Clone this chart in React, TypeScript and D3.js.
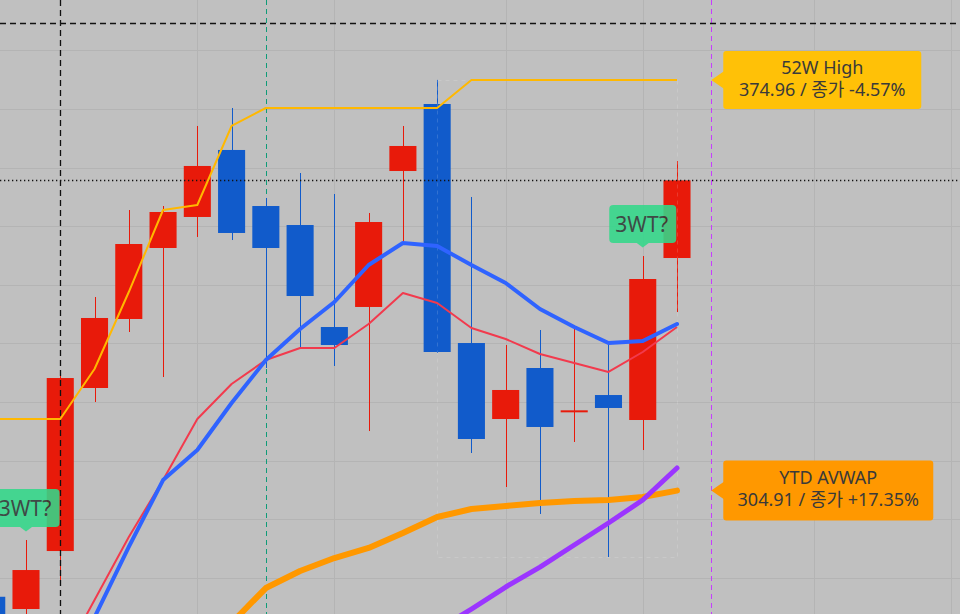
import React from 'react';
import * as d3 from 'd3';

const W = 960;
const H = 614;

// weekly candles, oldest first (bar 0 is cut off at the left edge)
const opens = [286.8, 284.71, 294.6, 322.41, 334.18, 346.29, 351.58, 363.01, 353.45, 350.21, 332.81, 336.23, 359.42, 370.85, 330.08, 317.12, 325.82, 318.4, 321.21, 316.95, 344.58];
const highs = [287.5, 296.48, 324.8, 337.93, 352.77, 353.45, 367.1, 370.17, 354.82, 359.08, 355.5, 352.26, 367.1, 374.96, 354.99, 329.74, 332.3, 332.47, 330.08, 344.92, 361.13];
const lows = [280.0, 282.83, 289.15, 320.02, 331.96, 324.28, 348.17, 347.65, 325.82, 329.23, 326.16, 315.07, 347.31, 328.4, 311.32, 305.52, 300.92, 313.2, 293.58, 311.83, 335.37];
const closes = [282.0, 291.36, 324.11, 334.35, 346.97, 352.43, 360.28, 348.85, 346.29, 338.1, 329.74, 350.72, 363.69, 328.55, 313.71, 322.07, 315.76, 318.6, 319.0, 341.0, 357.82];

// overlays
const high52w = [317.12, 317.12, 317.12, 325.65, 338.78, 352.77, 353.62, 367.1, 370.17, 370.17, 370.17, 370.17, 370.17, 370.17, 374.96, 374.96, 374.96, 374.96, 374.96, 374.96, 374.96];
const maFast = [null, null, 272.1, 283.3, 295.29, 306.71, 311.83, 319.85, 327.18, 332.47, 337.08, 343.39, 347.14, 346.63, 343.39, 340.32, 335.88, 332.81, 330.08, 330.43, 333.33];
const maSlow = [null, null, 275.5, 286.25, 296.99, 306.71, 317.12, 323.09, 327.18, 329.23, 329.23, 333.33, 338.61, 336.91, 332.64, 330.77, 328.21, 326.67, 325.14, 328.55, 332.81];
const ytdAvwap = [null, null, null, null, null, null, null, 282.32, 288.29, 291.19, 293.41, 295.12, 297.67, 300.4, 301.77, 302.28, 302.79, 303.13, 303.3, 303.81, 304.91];
const trendLine = [null, null, null, null, null, null, null, null, null, null, null, null, null, 281.13, 284.71, 288.46, 291.87, 295.63, 299.38, 303.3, 308.76];

const monthBars = [6, 10, 15, 19, 24, 28];
const gridPrices = d3.range(290, 390, 10);

const pivotBar = 2;
const anchorBar = 8;
const todayBar = 21;
const refPrice = 384.67;
const lastClose = 357.82;
const rangeHigh = 374.96;
const rangeLow = 293.58;

const label52 = ['52W High', '374.96 / 종가 -4.57%'];
const labelAvwap = ['YTD AVWAP', '304.91 / 종가 +17.35%'];
const wtBars = [1, 19];
const wtText = '3WT?';

const RED = '#e81a0a';
const BLUE = '#115bcb';
const FONT = '"Noto Sans", "Noto Sans CJK KR", sans-serif';

const x = d3.scaleLinear().domain([1, 20]).range([26, 677]);
const y = d3.scaleLinear().domain([283.86, 388.59]).range([H, 0]);
const step = x(1) - x(0);
const bodyW = step * 0.79;
// snap 1px lines to the pixel grid
const px = (v: number) => Math.round(v) + 0.5;

const line = d3.line<number | null>()
  .defined(v => v != null)
  .x((_, i) => x(i))
  .y(v => y(v as number));

function Callout({ value, lines, width, height, fill }: { value: number; lines: string[]; width: number; height: number; fill: string }) {
  const tx = x(todayBar);
  const ty = y(value);
  const bx = tx + 12;
  const by = ty - height / 2;
  const cx = bx + width / 2;
  return (
    <g>
      <rect x={bx} y={by} width={width} height={height} rx={3} fill={fill} />
      <path d={`M${tx},${ty} L${bx + 1},${ty - 9} L${bx + 1},${ty + 9} Z`} fill={fill} />
      <text x={cx} y={by + 23} textAnchor="middle" fontFamily={FONT} fontSize={18} fill="#3a3a3a">{lines[0]}</text>
      <text x={cx} y={by + 45} textAnchor="middle" fontFamily={FONT} fontSize={18} fill="#3a3a3a">{lines[1]}</text>
    </g>
  );
}

export default function App() {
  return (
    <svg width={W} height={H} style={{ position: 'fixed', left: 0, top: 0 }}>
      <rect width={W} height={H} fill="#c0c0c0" />

      {/* grid */}
      <g stroke="#b4b4b4" strokeWidth={1}>
        {gridPrices.map(p => <line key={p} x1={0} x2={W} y1={px(y(p))} y2={px(y(p))} />)}
        {monthBars.map(b => <line key={b} x1={px(x(b))} x2={px(x(b))} y1={0} y2={H} />)}
      </g>

      {/* anchor markers under the candles */}
      <line x1={px(x(anchorBar))} x2={px(x(anchorBar))} y1={0} y2={H} stroke="#0e9c78" strokeWidth={1} strokeDasharray="5,4" />
      <line x1={px(x(todayBar))} x2={px(x(todayBar))} y1={0} y2={H} stroke="#c63cff" strokeWidth={1} strokeDasharray="5,4" />

      {/* candles */}
      {opens.map((o, i) => {
        const c = closes[i];
        const col = c >= o ? RED : BLUE;
        const top = y(Math.max(o, c));
        const bot = y(Math.min(o, c));
        return (
          <g key={i}>
            <line x1={px(x(i))} x2={px(x(i))} y1={y(highs[i])} y2={y(lows[i])} stroke={col} strokeWidth={1} />
            <rect x={x(i) - bodyW / 2} y={top} width={bodyW} height={Math.max(2, bot - top)} fill={col} />
          </g>
        );
      })}

      {/* faint range box */}
      <rect x={px(x(13))} y={px(y(rangeHigh))} width={Math.round(x(20) - x(13))} height={Math.round(y(rangeLow) - y(rangeHigh))}
        fill="none" stroke="rgba(255,255,255,0.14)" strokeWidth={1} strokeDasharray="4,4" />

      {/* crosshair / reference lines */}
      <line x1={0} x2={W} y1={px(y(refPrice))} y2={px(y(refPrice))} stroke="#111" strokeWidth={1.3} strokeDasharray="6,4" />
      <line x1={px(x(pivotBar))} x2={px(x(pivotBar))} y1={0} y2={H} stroke="#111" strokeWidth={1.3} strokeDasharray="6,4" />
      <line x1={0} x2={W} y1={px(y(lastClose))} y2={px(y(lastClose))} stroke="#111" strokeWidth={1.3} strokeDasharray="1.3,2.7" />

      {/* overlays */}
      <path d={line(ytdAvwap) || ''} fill="none" stroke="#ff9800" strokeWidth={6} strokeLinejoin="round" strokeLinecap="round" />
      <path d={line(trendLine) || ''} fill="none" stroke="#9b35ff" strokeWidth={5} strokeLinejoin="round" strokeLinecap="round" />
      <path d={line(maSlow) || ''} fill="none" stroke="#f23a4d" strokeWidth={2} strokeLinejoin="round" />
      <path d={line(maFast) || ''} fill="none" stroke="#2f63ff" strokeWidth={4} strokeLinejoin="round" strokeLinecap="round" />
      <path d={`M0,${y(high52w[0])}` + (line(high52w) || '').replace(/^M/, 'L')} fill="none" stroke="#ffb800" strokeWidth={2} strokeLinejoin="round" />

      {/* 3WT pattern tags */}
      {wtBars.map(b => {
        const tipY = y(highs[b]) - 8.5;
        const bw = 67;
        const bh = 38;
        const bx = x(b) - bw / 2;
        const by = tipY - 4.5 - bh;
        return (
          <g key={b} opacity={0.88}>
            <rect x={bx} y={by} width={bw} height={bh} rx={4} fill="#33d98a" />
            <path d={`M${x(b) - 6},${by + bh} L${x(b)},${tipY} L${x(b) + 6},${by + bh} Z`} fill="#33d98a" />
            <text x={x(b) - 1} y={by + 27} textAnchor="middle" fontFamily={FONT} fontSize={21} fill="#2e3a36">{wtText}</text>
          </g>
        );
      })}

      <Callout value={374.96} lines={label52} width={198} height={58} fill="#ffc107" />
      <Callout value={304.91} lines={labelAvwap} width={210} height={60} fill="#ff9800" />
    </svg>
  );
}
